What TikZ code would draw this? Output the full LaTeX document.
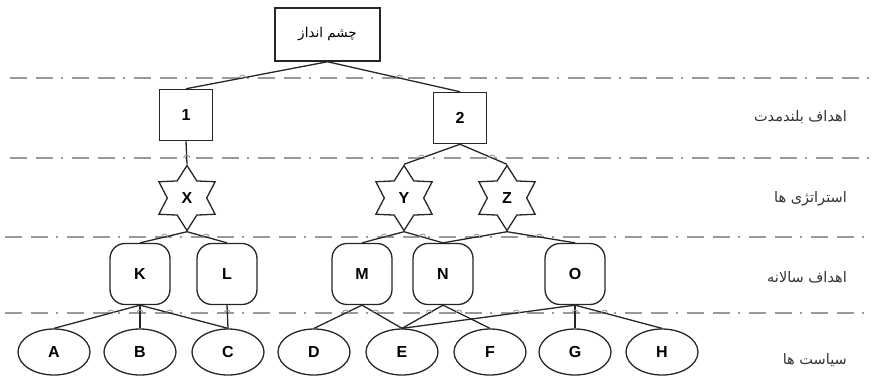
\documentclass[tikz,border=0pt]{standalone}
\usepackage{fontspec}
\setmainfont{Liberation Sans}
\newfontfamily\arabicfont[Script=Arabic]{DejaVu Sans}
\TeXXeTstate=1
\usetikzlibrary{shapes.geometric}
\begin{document}
\begin{tikzpicture}[x=1pt,y=-1pt,
  every node/.style={inner sep=0pt},
  conn/.style={draw=black!85, line width=1.3pt},
  sep/.style={draw=black!40, line width=1.8pt, dash pattern=on 17pt off 9pt on 17pt off 8pt on 2pt off 9pt},
  hop/.style={draw=black!40, line width=0.9pt},
  topbox/.style={draw=black!85, line width=1.5pt, rectangle, minimum width=105pt, minimum height=53pt, font=\arabicfont\fontsize{13.5}{15}\selectfont},
  sqbox/.style={draw=black!85, line width=1.5pt, rectangle, minimum width=53pt, minimum height=51pt, font=\bfseries\fontsize{16}{18}\selectfont},
  starbox/.style={draw=black!85, line width=1.3pt, star, star points=6, star point ratio=1.65, minimum size=65pt, font=\bfseries\fontsize{16}{18}\selectfont},
  rbox/.style={draw=black!85, line width=1.3pt, rectangle, rounded corners=15pt, minimum width=60pt, minimum height=61pt, font=\bfseries\fontsize{16}{18}\selectfont},
  ebox/.style={draw=black!85, line width=1.3pt, ellipse, minimum width=72pt, minimum height=46pt, font=\bfseries\fontsize{16}{18}\selectfont},
  lbl/.style={anchor=east, text=black!80, font=\arabicfont\fontsize{14.5}{16}\selectfont}
]
\useasboundingbox (0,0) rectangle (873,376);
% separator lines
\coordinate (L1a) at (10,78);  \coordinate (L1b) at (873,78);
\coordinate (L2a) at (10,158); \coordinate (L2b) at (873,158);
\coordinate (L3a) at (5,237);  \coordinate (L3b) at (873,237);
\coordinate (L4a) at (5,313);  \coordinate (L4b) at (873,313);
\foreach \lv in {1,2,3,4} \draw[sep] (L\lv a) -- (L\lv b);

% nodes
\node[topbox] (top) at (327.5,34.5) {\beginR چشم انداز\endR};
\node[sqbox] (n1) at (186,115) {1};
\node[sqbox] (n2) at (460,118) {2};
\node[starbox] (X) at (187,198) {X};
\node[starbox] (Y) at (404,198) {Y};
\node[starbox] (Z) at (507,198) {Z};
\node[rbox] (K) at (140,274) {K};
\node[rbox] (L) at (227,274) {L};
\node[rbox] (M) at (362,274) {M};
\node[rbox] (N) at (443,274) {N};
\node[rbox] (O) at (575,274) {O};
\node[ebox] (A) at (54,352) {A};
\node[ebox] (B) at (140,352) {B};
\node[ebox] (C) at (228,352) {C};
\node[ebox] (D) at (314,352) {D};
\node[ebox] (E) at (402,352) {E};
\node[ebox] (F) at (490,352) {F};
\node[ebox] (G) at (575,352) {G};
\node[ebox] (H) at (662,352) {H};

% labels
\node[lbl] (t1) at (847,117) {\beginR اهداف بلندمدت\endR};
\node[lbl] (t2) at (847,199) {\beginR استراتژی ها\endR};
\node[lbl] (t3) at (847,277) {\beginR اهداف سالانه\endR};
\node[lbl] (t4) at (847,360) {\beginR سیاست ها\endR};

% connectors and hops
\foreach \p/\c/\lv in {top/n1/1, top/n2/1, n1/X/2, n2/Y/2, n2/Z/2,
    X/K/3, X/L/3, Y/M/3, Y/N/3, Z/N/3, Z/O/3,
    K/A/4, K/B/4, K/C/4, L/C/4, M/D/4, M/E/4, N/E/4, N/F/4, O/E/4, O/G/4, O/H/4} {
  \draw[conn] (\p.south) -- (\c.north);
  \path (intersection of \p.south--\c.north and L\lv a--L\lv b) coordinate (tmp);
  \draw[hop] ([xshift=-3pt]tmp) arc (180:0:3pt);
}
\end{tikzpicture}
\end{document}
